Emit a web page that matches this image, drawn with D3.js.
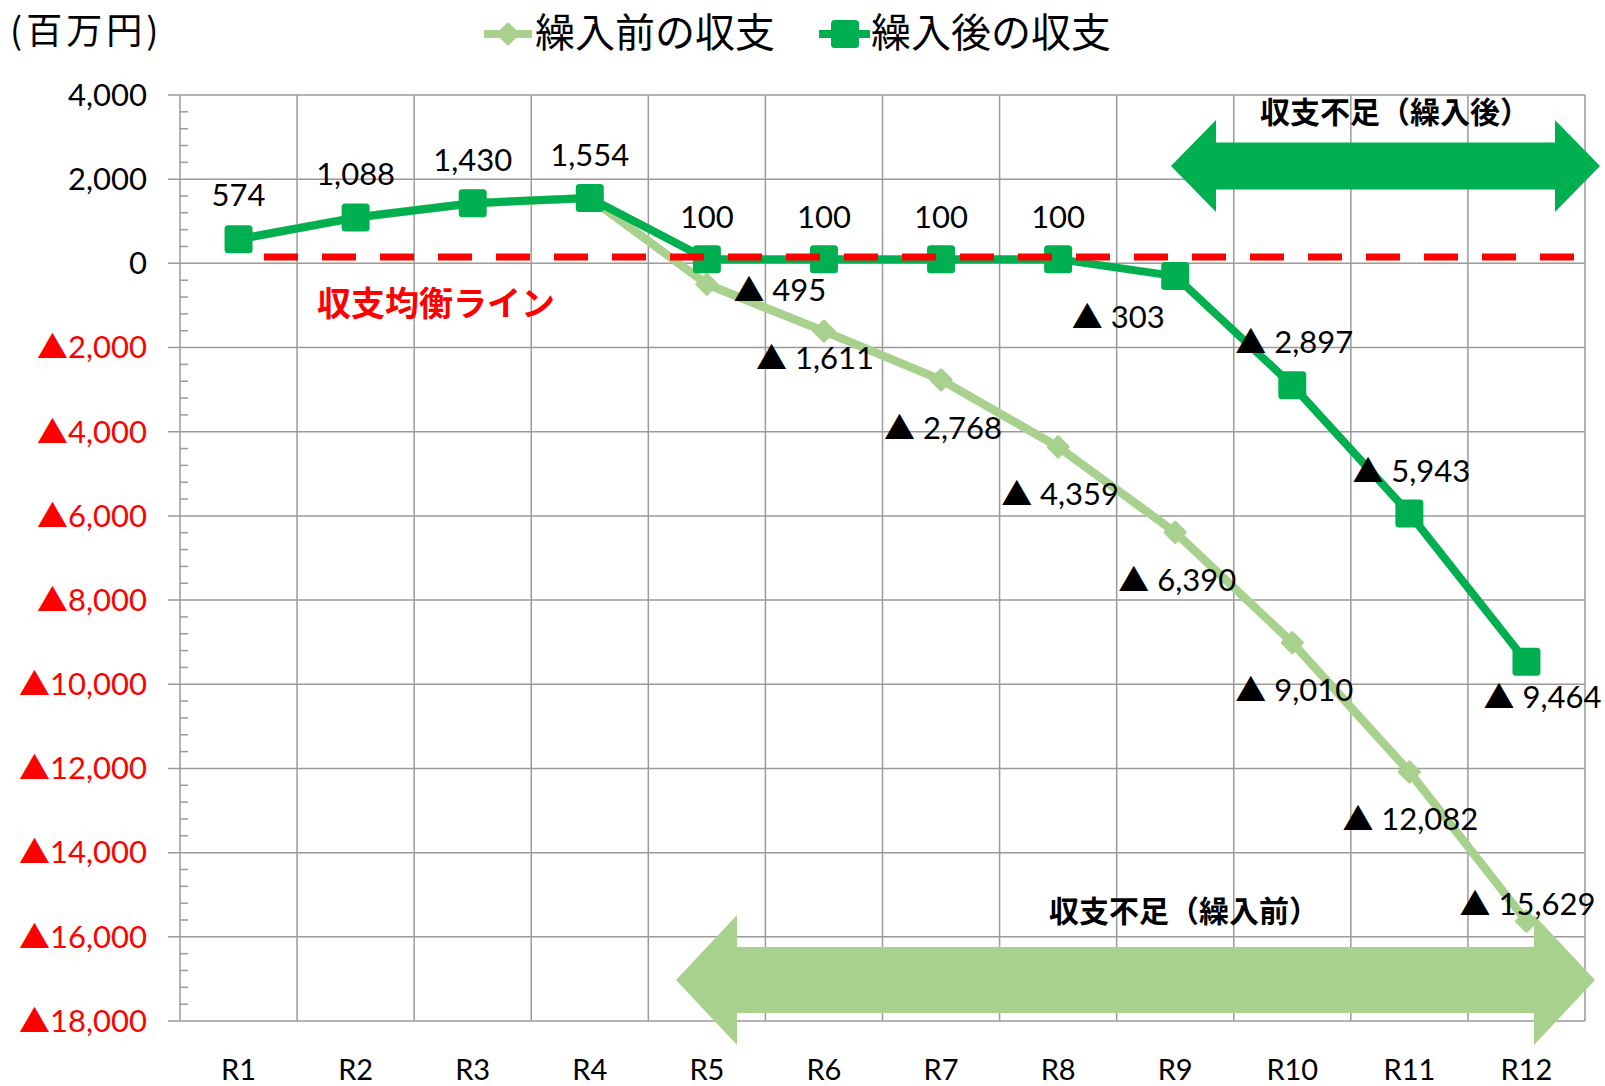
<!DOCTYPE html>
<html>
<head>
<meta charset="utf-8">
<script src="https://cdn.jsdelivr.net/npm/d3@7"></script>
<style>
  body { margin: 0; background: #fff; }
  svg { display: block; }
</style>
</head>
<body>
<script>
// data
var categories = ["R1", "R2", "R3", "R4", "R5", "R6", "R7", "R8", "R9", "R10", "R11", "R12"];
var beforeValues = [574, 1088, 1430, 1554, -495, -1611, -2768, -4359, -6390, -9010, -12082, -15629];
var afterValues = [574, 1088, 1430, 1554, 100, 100, 100, 100, -303, -2897, -5943, -9464];
var yTicks = [4000, 2000, 0, -2000, -4000, -6000, -8000, -10000, -12000, -14000, -16000, -18000];
var balanceValue = 150;
var seriesNames = ["繰入前の収支", "繰入後の収支"];

// which points get a label, and where the label sits (dx, dy from the point)
var beforeLabelIdx = [4, 5, 6, 7, 8, 9, 10, 11];
var beforeLabelOff = [[73, 6], [-9, 27], [2, 48], [2, 47], [2, 48], [2, 48], [1, 47], [1, -17]];
var afterLabelOff = [[0, -44], [0, -43], [0, -43], [0, -43], [0, -42], [0, -42], [0, -42], [0, -42],
                     [-57, 41], [2, -43], [2, -42], [16, 35]];

var width = 1605, height = 1086;
// note: "top" is taken by window.top, so plot edges get their own names
var plotL = 180, plotR = 1585, plotT = 95, plotB = 1021;
var lightGreen = "#A9D18E", darkGreen = "#00B050", gridCol = "#9a9a9a";
var numFont = "Lato, 'Noto Sans CJK JP', sans-serif";
var jpFont = "'Noto Sans CJK JP', sans-serif";

var svg = d3.select("body").append("svg")
    .attr("width", width)
    .attr("height", height);

var x = d3.scaleBand().domain(categories).range([plotL, plotR]);
var y = d3.scaleLinear().domain([-18000, 4000]).range([plotB, plotT]);
var cx = function(i) { return x(categories[i]) + x.bandwidth() / 2; };

var fmt = d3.format(",");
function label(v, space) {
  return v < 0 ? "▲" + (space ? " " : "") + fmt(-v) : fmt(v);
}

// grid
var grid = svg.append("g").attr("stroke", gridCol).attr("stroke-width", 1.5);
grid.selectAll(".h").data(yTicks).enter().append("line")
    .attr("x1", plotL - 12).attr("x2", plotR)
    .attr("y1", function(d) { return y(d); })
    .attr("y2", function(d) { return y(d); });
grid.selectAll(".v").data(d3.range(categories.length + 1)).enter().append("line")
    .attr("x1", function(d) { return plotL + d * x.step(); })
    .attr("x2", function(d) { return plotL + d * x.step(); })
    .attr("y1", plotT).attr("y2", plotB);
// minor ticks inside the axis
grid.selectAll(".m").data(d3.range(-18000, 4000, 400).filter(function(d) { return d % 2000 !== 0; }))
  .enter().append("line")
    .attr("x1", plotL).attr("x2", plotL + 8)
    .attr("y1", function(d) { return y(d); })
    .attr("y2", function(d) { return y(d); });

// y labels
svg.append("g").selectAll("text").data(yTicks).enter().append("text")
    .attr("x", 147)
    .attr("y", function(d) { return y(d); })
    .attr("dy", "0.35em")
    .attr("text-anchor", "end")
    .attr("font-family", numFont)
    .attr("font-size", 31)
    .attr("fill", function(d) { return d < 0 ? "#FF0000" : "#000"; })
    .text(function(d) { return label(d, false); });

// x labels
svg.append("g").selectAll("text").data(categories).enter().append("text")
    .attr("x", function(d, i) { return cx(i); })
    .attr("y", 1070)
    .attr("dy", "0.35em")
    .attr("text-anchor", "middle")
    .attr("font-family", numFont)
    .attr("font-size", 29)
    .text(function(d) { return d; });

// arrows
function doubleArrow(x0, x1, cy, sh, hh, hl) {
  return [[x0, cy], [x0 + hl, cy - hh], [x0 + hl, cy - sh], [x1 - hl, cy - sh], [x1 - hl, cy - hh],
          [x1, cy], [x1 - hl, cy + hh], [x1 - hl, cy + sh], [x0 + hl, cy + sh], [x0 + hl, cy + hh]];
}
svg.append("polygon")
    .attr("points", doubleArrow(1171, 1600, 166, 23.5, 46, 45).join(" "))
    .attr("fill", darkGreen);
svg.append("polygon")
    .attr("points", doubleArrow(676, 1595, 980, 33, 65, 61).join(" "))
    .attr("fill", lightGreen);

svg.append("text")
    .attr("x", 1395).attr("y", 112).attr("dy", "0.35em")
    .attr("text-anchor", "middle")
    .attr("font-family", jpFont).attr("font-weight", "bold").attr("font-size", 30)
    .text("収支不足（繰入後）");
svg.append("text")
    .attr("x", 1184).attr("y", 911).attr("dy", "0.35em")
    .attr("text-anchor", "middle")
    .attr("font-family", jpFont).attr("font-weight", "bold").attr("font-size", 30)
    .text("収支不足（繰入前）");

// series
var line = d3.line()
    .x(function(d, i) { return cx(i); })
    .y(function(d) { return y(d); });

svg.append("path")
    .attr("d", line(beforeValues))
    .attr("fill", "none")
    .attr("stroke", lightGreen)
    .attr("stroke-width", 8.5)
    .attr("stroke-linejoin", "round");
svg.append("g").selectAll("path").data(beforeValues).enter().append("path")
    .attr("d", d3.symbol(d3.symbolSquare, 200)())
    .attr("transform", function(d, i) { return "translate(" + cx(i) + "," + y(d) + ") rotate(45)"; })
    .attr("fill", lightGreen)
    .attr("stroke", lightGreen)
    .attr("stroke-width", 3)
    .attr("stroke-linejoin", "round");

svg.append("path")
    .attr("d", line(afterValues))
    .attr("fill", "none")
    .attr("stroke", darkGreen)
    .attr("stroke-width", 8)
    .attr("stroke-linejoin", "round");
svg.append("g").selectAll("rect").data(afterValues).enter().append("rect")
    .attr("x", function(d, i) { return cx(i) - 14; })
    .attr("y", function(d) { return y(d) - 14; })
    .attr("width", 28).attr("height", 28)
    .attr("rx", 3.5)
    .attr("fill", darkGreen);

// balance line
svg.append("line")
    .attr("x1", plotL + 84).attr("x2", plotR)
    .attr("y1", y(balanceValue)).attr("y2", y(balanceValue))
    .attr("stroke", "#FF0000")
    .attr("stroke-width", 7)
    .attr("stroke-dasharray", "34,24");
svg.append("text")
    .attr("x", 317).attr("y", 304).attr("dy", "0.35em")
    .attr("font-family", jpFont).attr("font-weight", "bold").attr("font-size", 34)
    .attr("fill", "#FF0000")
    .text("収支均衡ライン");

// data labels
var labels = svg.append("g")
    .attr("font-family", numFont)
    .attr("font-size", 31)
    .attr("text-anchor", "middle");
labels.selectAll(".b").data(beforeLabelIdx).enter().append("text")
    .attr("x", function(d, k) { return cx(d) + beforeLabelOff[k][0]; })
    .attr("y", function(d, k) { return y(beforeValues[d]) + beforeLabelOff[k][1]; })
    .attr("dy", "0.35em")
    .text(function(d) { return label(beforeValues[d], true); });
labels.selectAll(".a").data(afterValues).enter().append("text")
    .attr("x", function(d, i) { return cx(i) + afterLabelOff[i][0]; })
    .attr("y", function(d, i) { return y(d) + afterLabelOff[i][1]; })
    .attr("dy", "0.35em")
    .text(function(d) { return label(d, true); });

// unit
svg.append("text")
    .attr("x", 10).attr("y", 31).attr("dy", "0.35em")
    .attr("font-family", jpFont).attr("font-size", 36)
    .attr("letter-spacing", 4)
    .text("(百万円)");

// legend
var legend = svg.append("g");
legend.append("line").attr("x1", 484).attr("x2", 532).attr("y1", 34).attr("y2", 34)
    .attr("stroke", lightGreen).attr("stroke-width", 8);
legend.append("path").attr("d", d3.symbol(d3.symbolSquare, 200)())
    .attr("transform", "translate(508,34) rotate(45)")
    .attr("fill", lightGreen).attr("stroke", lightGreen).attr("stroke-width", 3)
    .attr("stroke-linejoin", "round");
legend.append("line").attr("x1", 819).attr("x2", 870).attr("y1", 34).attr("y2", 34)
    .attr("stroke", darkGreen).attr("stroke-width", 8);
legend.append("rect").attr("x", 831).attr("y", 20).attr("width", 28).attr("height", 28)
    .attr("rx", 3.5).attr("fill", darkGreen);
legend.selectAll("text").data(seriesNames).enter().append("text")
    .attr("x", function(d, i) { return i === 0 ? 535 : 871; })
    .attr("y", 33).attr("dy", "0.35em")
    .attr("font-family", jpFont).attr("font-size", 40)
    .text(function(d) { return d; });
</script>
</body>
</html>
